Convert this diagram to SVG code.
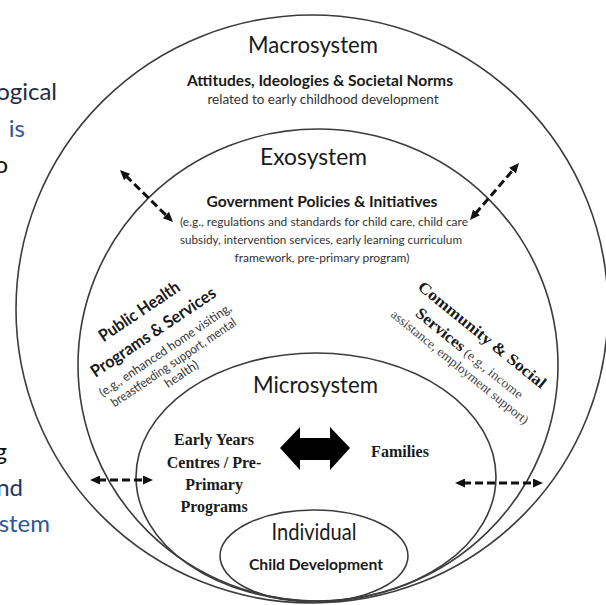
<svg xmlns="http://www.w3.org/2000/svg" width="606" height="605" viewBox="0 0 606 605">
  <style>
    .ring { fill: none; stroke: #3c3c3c; stroke-width: 1.6; }
    .title { font-family: Lato, "Liberation Sans", sans-serif; font-size: 24px; fill: #1a1a1a; text-anchor: middle; }
    .head { font-family: Lato, "Liberation Sans", sans-serif; font-weight: bold; fill: #1a1a1a; text-anchor: middle; }
    .note { font-family: Lato, "Liberation Sans", sans-serif; fill: #333; text-anchor: middle; }
    .serifb { font-family: "Liberation Serif", serif; font-weight: bold; fill: #1a1a1a; text-anchor: middle; }
    .serif { font-family: "Liberation Serif", serif; fill: #444; }
    .side { font-family: Lato, "Liberation Sans", sans-serif; font-size: 24px; text-anchor: end; }
    .dash { stroke: #111; stroke-width: 3; stroke-dasharray: 8 4; fill: none; marker-start: url(#tip); marker-end: url(#tip); }
  </style>
  <defs>
    <marker id="tip" markerUnits="userSpaceOnUse" viewBox="0 0 10 9" markerWidth="10" markerHeight="9" refX="2" refY="4.5" orient="auto-start-reverse">
      <path d="M0,0 L10,4.5 L0,9 z" fill="#111"/>
    </marker>
  </defs>
  <rect width="606" height="605" fill="#fff"/>

  <!-- slide text running off the left edge -->
  <g id="side-text">
    <text class="side" x="57" y="100" fill="#1f2a44">ogical</text>
    <text class="side" x="25" y="137" fill="#2f5597">is</text>
    <text class="side" x="8" y="173" fill="#111">o</text>
    <text class="side" x="7" y="460" fill="#111">g</text>
    <text class="side" x="23" y="496" fill="#1f3864">nd</text>
    <text class="side" x="50" y="532" fill="#2f5597">stem</text>
  </g>

  <g id="macrosystem">
    <ellipse class="ring" cx="312" cy="309" rx="296" ry="294"/>
    <text class="title" x="313" y="53" textLength="130" lengthAdjust="spacingAndGlyphs">Macrosystem</text>
    <text class="head" x="320" y="86" font-size="15" textLength="266" lengthAdjust="spacingAndGlyphs">Attitudes, Ideologies &amp; Societal Norms</text>
    <text class="note" x="323" y="104" font-size="12.5" fill="#222" textLength="231" lengthAdjust="spacingAndGlyphs">related to early childhood development</text>
  </g>

  <g id="exosystem">
    <ellipse class="ring" cx="318" cy="365" rx="240" ry="236"/>
    <text class="title" x="313.5" y="165" textLength="107" lengthAdjust="spacingAndGlyphs">Exosystem</text>
    <text class="head" x="322" y="207" font-size="14.5" textLength="231" lengthAdjust="spacingAndGlyphs">Government Policies &amp; Initiatives</text>
    <text class="note" x="324" y="226" font-size="12" textLength="288" lengthAdjust="spacingAndGlyphs">(e.g., regulations and standards for child care, child care</text>
    <text class="note" x="321" y="244" font-size="12" textLength="282" lengthAdjust="spacingAndGlyphs">subsidy, intervention services, early learning curriculum</text>
    <text class="note" x="322" y="262" font-size="12" textLength="175" lengthAdjust="spacingAndGlyphs">framework, pre-primary program)</text>
  </g>

  <g id="public-health" transform="translate(153,332) rotate(-34)">
    <text class="head" x="0" y="-19" font-size="17" textLength="94" lengthAdjust="spacingAndGlyphs">Public Health</text>
    <text class="head" x="0" y="6" font-size="17" textLength="147" lengthAdjust="spacingAndGlyphs">Programs &amp; Services</text>
    <text class="note" x="0" y="26" font-size="12.5" fill="#555" textLength="156" lengthAdjust="spacingAndGlyphs">(e.g., enhanced home visiting,</text>
    <text class="note" x="0" y="41" font-size="12.5" fill="#555" textLength="148" lengthAdjust="spacingAndGlyphs">breastfeeding support, mental</text>
    <text class="note" x="0" y="55" font-size="12.5" fill="#555" textLength="38" lengthAdjust="spacingAndGlyphs">health)</text>
  </g>

  <g id="community-social" transform="translate(482,335) rotate(39)">
    <text class="serifb" x="0" y="5" font-size="16" textLength="160" lengthAdjust="spacingAndGlyphs">Community &amp; Social</text>
    <text x="2" y="27" text-anchor="middle" textLength="134" lengthAdjust="spacingAndGlyphs"><tspan class="serifb" font-size="16">Services</tspan><tspan class="serif" font-size="13"> (e.g., income</tspan></text>
    <text class="serif" x="3" y="43" font-size="13" text-anchor="middle" textLength="173" lengthAdjust="spacingAndGlyphs">assistance, employment support)</text>
  </g>

  <g id="microsystem">
    <ellipse class="ring" cx="316" cy="477" rx="180" ry="124"/>
    <text class="title" x="315.5" y="393" textLength="125" lengthAdjust="spacingAndGlyphs">Microsystem</text>
  </g>

  <g id="early-years">
    <text class="serifb" font-size="16" x="214" y="445">Early Years</text>
    <text class="serifb" font-size="16" x="214" y="468">Centres / Pre-</text>
    <text class="serifb" font-size="16" x="214" y="490">Primary</text>
    <text class="serifb" font-size="16" x="214" y="512">Programs</text>
  </g>

  <g id="families">
    <text class="serifb" font-size="16" x="400" y="457">Families</text>
  </g>

  <g id="individual">
    <ellipse class="ring" cx="314" cy="556" rx="94" ry="46"/>
    <text class="title" x="314" y="540" font-size="22" textLength="85" lengthAdjust="spacingAndGlyphs">Individual</text>
    <text class="head" x="316" y="570" font-size="15" textLength="134" lengthAdjust="spacingAndGlyphs">Child Development</text>
  </g>

  <g id="connectors">
    <polygon points="280,448 300,427 300,438 330,438 330,427 350,448 330,470 330,460 300,460 300,470" fill="#000"/>
    <line class="dash" x1="125.7" y1="175.6" x2="167.3" y2="216.4"/>
    <line class="dash" x1="475.2" y1="213.9" x2="513.8" y2="169.1"/>
    <line class="dash" x1="98" y1="480" x2="145" y2="480"/>
    <line class="dash" x1="463" y1="483" x2="535" y2="483"/>
  </g>
</svg>
